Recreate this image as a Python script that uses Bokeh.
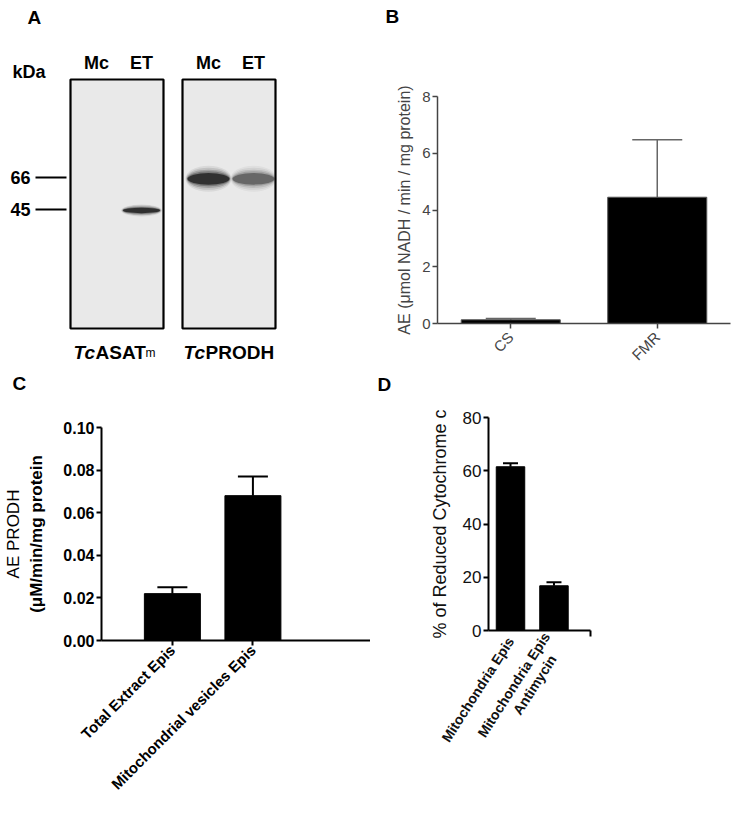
import math
from bokeh.plotting import figure
from bokeh.models import (Range1d, FactorRange, FixedTicker, NumeralTickFormatter,
                          LinearAxis, Whisker, TeeHead, ColumnDataSource)
from bokeh.layouts import row, column
from bokeh.core.properties import value
from bokeh.embed import file_html
from bokeh.resources import INLINE

FONT = "Liberation Sans"

# ---------------- data ----------------
# Panel A (western blot)
blot_proteins = ["TcASATm", "TcPRODH"]
lanes = ["Mc", "ET"]
marker_kda = [66, 45]
marker_labels = ["66", "45"]
band_protein = ["TcASATm", "TcASATm", "TcPRODH", "TcPRODH"]
band_lane = ["Mc", "ET", "Mc", "ET"]
band_kda = [44.5, 44.5, 65.0, 65.0]
band_intensity = [0.0, 0.97, 0.95, 0.55]

# Panel B
b_cats = ["CS", "FMR"]
b_vals = [0.13, 4.45]
b_err = [0.05, 2.03]

# Panel C
c_cats = ["Total Extract Epis", "Mitochondrial vesicles Epis"]
c_vals = [0.022, 0.068]
c_err = [0.003, 0.009]

# Panel D
d_cats = ["Mitochondria Epis", "Mitochondria Epis\nAntimycin"]
d_vals = [61.5, 16.8]
d_err = [1.3, 1.3]

BASE_SHIFT = 6  # rendered alphabetic baseline sits lower than requested


def style_common(p):
    p.xgrid.visible = False
    p.ygrid.visible = False
    p.outline_line_color = None
    p.background_fill_color = "white"
    p.border_fill_color = "white"


def txt(p, x, y, s, size="18px", style="bold", align="left", baseline="alphabetic"):
    p.text(x=x, y=y, text=s, text_align=align, text_baseline=baseline,
           text_font=value(FONT), text_font_style=style, text_font_size=size,
           text_color="black")


def letter_fig(width, height, x0, y0, letter, lx, ly):
    f = figure(width=width, height=height, x_range=Range1d(x0, x0 + width),
               y_range=Range1d(y0 + height, y0), x_axis_location=None,
               y_axis_location=None, min_border=0, output_backend="svg",
               toolbar_location=None)
    style_common(f)
    txt(f, [lx], [ly - BASE_SHIFT], [letter], size="19px")
    return f


# ---------------- Panel A ----------------
PX_PER_DEC = 192.4


def kda_at(ref_y):
    return 66 * 10 ** ((177 - ref_y) / PX_PER_DEC)


def kda_base(ref_y):
    return kda_at(ref_y - BASE_SHIFT)


A_H = 396
pa = figure(width=370, height=A_H, x_range=Range1d(0, 370),
            y_range=Range1d(kda_at(A_H), kda_at(0)), y_axis_type="log",
            x_axis_location=None, y_axis_location=None, min_border=0,
            output_backend="svg", toolbar_location=None)
style_common(pa)

blot_left = {"TcASATm": 70, "TcPRODH": 182}
blot_w = 93
lane_off = {"Mc": 26, "ET": 71}
band_thick = {"TcASATm": 6, "TcPRODH": 13}
band_width = {"TcASATm": 37, "TcPRODH": 42}

pa.quad(left=[blot_left[b] for b in blot_proteins],
        right=[blot_left[b] + blot_w for b in blot_proteins],
        top=kda_at(79), bottom=kda_at(328),
        fill_color="#e9e9e9", line_color="black", line_width=2.2)

for prot, ln, kda, inten in zip(band_protein, band_lane, band_kda, band_intensity):
    if inten <= 0:
        continue
    xc = blot_left[prot] + lane_off[ln]
    h = band_thick[prot]
    w = band_width[prot]
    for ws, hs, af in [(1.10, 2.0, 0.08), (1.07, 1.7, 0.12), (1.04, 1.4, 0.2),
                       (1.02, 1.15, 0.3), (1.0, 0.9, 0.75)]:
        pa.ellipse(x=[xc], y=[kda], width=w * ws, height=h * hs, height_units="screen",
                   fill_color="#151515", fill_alpha=inten * af, line_color=None)

pa.segment(x0=35, x1=66, y0=marker_kda, y1=marker_kda, line_color="black", line_width=2.2)
txt(pa, [30] * len(marker_kda), marker_kda, marker_labels, align="right", baseline="middle")

lane_x = [blot_left[b] + lane_off[l] for b in blot_proteins for l in lanes]
lane_t = [l for b in blot_proteins for l in lanes]
txt(pa, lane_x, [kda_base(68)] * len(lane_x), lane_t, align="center")
txt(pa, [12], [kda_base(77)], ["kDa"])
txt(pa, [27], [kda_base(23)], ["A"], size="19px")
txt(pa, [12], [kda_base(389)], ["C"], size="19px")

base_y = kda_base(358)
name_left = {"TcASATm": 73, "TcPRODH": 183}
for prot in blot_proteins:
    x0 = name_left[prot]
    txt(pa, [x0], [base_y], ["Tc"], size="19px", style="bold italic")
    rest = prot[2:]
    main, sub = (rest[:-1], rest[-1]) if rest.endswith("m") else (rest, "")
    txt(pa, [x0 + 22], [base_y], [main], size="19px")
    if sub:
        txt(pa, [x0 + 22 + 50], [base_y], [sub], size="12px", style="normal")

# ---------------- Panel B ----------------
lb = letter_fig(366, 30, 370, 0, "B", 385, 22)
pb = figure(width=366, height=344, x_range=FactorRange(*b_cats), y_range=Range1d(0, 8),
            min_border_left=67, min_border_right=6, min_border_top=66, min_border_bottom=51,
            output_backend="svg", toolbar_location=None)
style_common(pb)
srcb = ColumnDataSource(dict(x=b_cats, top=b_vals, upper=[v + e for v, e in zip(b_vals, b_err)]))
pb.vbar(x="x", top="top", width=0.676, source=srcb, fill_color="black", line_color="#555555",
        line_width=1)
pb.add_layout(Whisker(source=srcb, base="x", upper="upper", lower="top", line_color="#666666",
                      line_width=1.5, lower_head=None,
                      upper_head=TeeHead(size=50, line_color="#666666", line_width=1.5)))
pb.yaxis.ticker = FixedTicker(ticks=[0, 2, 4, 6, 8])
pb.axis.minor_tick_line_color = None
pb.axis.major_tick_in = 0
pb.axis.major_tick_out = 5
pb.axis.axis_line_color = "#444444"
pb.axis.axis_line_width = 1.5
pb.axis.major_tick_line_color = "#444444"
pb.axis.major_tick_line_width = 1.5
pb.axis.major_label_text_font = FONT
pb.axis.major_label_text_font_size = "15px"
pb.axis.major_label_text_color = "#444444"
pb.yaxis.major_label_standoff = 2
pb.xaxis.major_label_standoff = 6
pb.xaxis.major_label_orientation = math.pi / 4
pb.yaxis.axis_label = "AE (μmol NADH / min / mg protein)"
pb.yaxis.axis_label_text_font = FONT
pb.yaxis.axis_label_text_font_style = "normal"
pb.yaxis.axis_label_text_font_size = "16px"
pb.yaxis.axis_label_text_color = "#444444"
pb.yaxis.axis_label_standoff = 6

# ---------------- Panel C ----------------
c_x = list(range(1, len(c_cats) + 1))
pc = figure(width=370, height=426, x_range=Range1d(0.12, 3.46), y_range=Range1d(0, 0.1),
            min_border_left=96, min_border_right=0, min_border_top=31, min_border_bottom=182,
            output_backend="svg", toolbar_location=None)
style_common(pc)
srcc = ColumnDataSource(dict(x=c_x, top=c_vals, upper=[v + e for v, e in zip(c_vals, c_err)]))
pc.vbar(x="x", top="top", width=0.695, source=srcc, fill_color="black", line_color="black")
pc.add_layout(Whisker(source=srcc, base="x", upper="upper", lower="top", line_color="black",
                      line_width=2, lower_head=None,
                      upper_head=TeeHead(size=30, line_color="black", line_width=2)))
pc.xaxis.ticker = FixedTicker(ticks=c_x)
pc.xaxis.major_label_overrides = {x: c for x, c in zip(c_x, c_cats)}
pc.yaxis.ticker = FixedTicker(ticks=[0, 0.02, 0.04, 0.06, 0.08, 0.10])
pc.yaxis.formatter = NumeralTickFormatter(format="0.00")
pc.axis.minor_tick_line_color = None
pc.axis.major_tick_in = 0
pc.axis.major_tick_out = 5
pc.axis.axis_line_color = "black"
pc.axis.axis_line_width = 2
pc.axis.major_tick_line_color = "black"
pc.axis.major_tick_line_width = 2
pc.axis.major_label_text_font = FONT
pc.axis.major_label_text_font_style = "bold"
pc.axis.major_label_text_color = "black"
pc.axis.major_label_standoff = 2
pc.yaxis.major_label_text_font_size = "16px"
pc.xaxis.major_label_text_font_size = "15px"
pc.xaxis.major_label_orientation = math.pi / 4
pc.yaxis.axis_label = "(μM/min/mg protein"
pc.yaxis.axis_label_text_font = FONT
pc.yaxis.axis_label_text_font_style = "bold"
pc.yaxis.axis_label_text_font_size = "17px"
pc.yaxis.axis_label_text_color = "black"
pc.yaxis.axis_label_standoff = 14
ax2 = LinearAxis(ticker=FixedTicker(ticks=[]), axis_label="AE PRODH",
                 axis_label_text_font=FONT, axis_label_text_font_style="normal",
                 axis_label_text_font_size="17px", axis_label_text_color="black",
                 axis_label_standoff=2, axis_line_color=None, major_tick_line_color=None,
                 minor_tick_line_color=None, major_tick_out=0, major_tick_in=0,
                 minor_tick_out=0, minor_tick_in=0, major_label_text_font_size="0px",
                 major_label_standoff=0)
pc.add_layout(ax2, "left")

# ---------------- Panel D ----------------
ld = letter_fig(366, 22, 370, 374, "D", 377, 390)
d_x = list(range(1, len(d_cats) + 1))
NBSP = "\u00a0"


def d_label(c):
    parts = c.split("\n")
    return "\n".join([parts[0]] + [p + NBSP * 4 for p in parts[1:]])


pdd = figure(width=366, height=426, x_range=Range1d(0.494, 2.84), y_range=Range1d(0, 80),
             min_border_left=118, min_border_right=146, min_border_top=21, min_border_bottom=192,
             output_backend="svg", toolbar_location=None)
style_common(pdd)
srcd = ColumnDataSource(dict(x=d_x, top=d_vals, upper=[v + e for v, e in zip(d_vals, d_err)]))
pdd.vbar(x="x", top="top", width=0.655, source=srcd, fill_color="black", line_color="black")
pdd.add_layout(Whisker(source=srcd, base="x", upper="upper", lower="top", line_color="black",
                       line_width=2, lower_head=None,
                       upper_head=TeeHead(size=15, line_color="black", line_width=2)))
pdd.xaxis.ticker = FixedTicker(ticks=d_x, minor_ticks=[2.835])
pdd.xaxis.major_label_overrides = {x: d_label(c) for x, c in zip(d_x, d_cats)}
pdd.yaxis.ticker = FixedTicker(ticks=[0, 20, 40, 60, 80])
pdd.yaxis.minor_tick_line_color = None
pdd.axis.major_tick_in = 0
pdd.axis.major_tick_out = 5
pdd.axis.axis_line_color = "black"
pdd.axis.axis_line_width = 2
pdd.yaxis.major_tick_line_color = "black"
pdd.axis.major_tick_line_width = 2
pdd.xaxis.major_tick_line_color = None
pdd.xaxis.minor_tick_in = 0
pdd.xaxis.minor_tick_out = 6
pdd.xaxis.minor_tick_line_color = "black"
pdd.xaxis.minor_tick_line_width = 2
pdd.axis.major_label_text_font = FONT
pdd.axis.major_label_text_color = "#111111"
pdd.axis.major_label_standoff = 2
pdd.yaxis.major_label_text_font_size = "17px"
pdd.xaxis.major_label_text_font_size = "14px"
pdd.xaxis.major_label_text_font_style = "bold"
pdd.xaxis.major_label_text_line_height = 1.1
pdd.xaxis.major_label_orientation = 1.0
pdd.yaxis.axis_label = "% of Reduced Cytochrome c"
pdd.yaxis.axis_label_text_font = FONT
pdd.yaxis.axis_label_text_font_style = "normal"
pdd.yaxis.axis_label_text_font_size = "18px"
pdd.yaxis.axis_label_text_color = "#111111"
pdd.yaxis.axis_label_standoff = 10

left = column(column(pa), column(pc))
right = column(column(lb), column(pb), column(ld), column(pdd))
layout = row(left, right)
open("out.html", "w").write(file_html(layout, INLINE))
